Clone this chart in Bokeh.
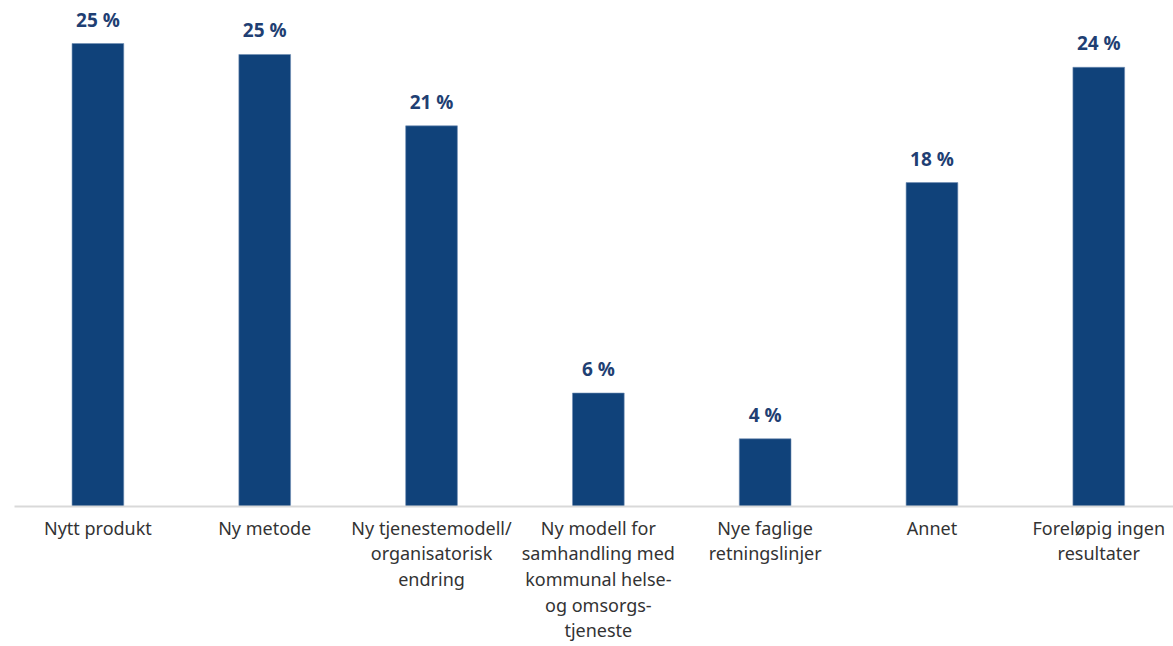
from bokeh.plotting import figure
from bokeh.models import ColumnDataSource, FixedTicker, Range1d
from bokeh.core.properties import value
from bokeh.embed import file_html
from bokeh.resources import INLINE

categories = ["Nytt produkt", "Ny metode", "Ny tjenestemodell/\norganisatorisk\nendring",
              "Ny modell for\nsamhandling med\nkommunal helse-\nog omsorgs-\ntjeneste",
              "Nye faglige\nretningslinjer", "Annet", "Foreløpig ingen\nresultater"]
values = [25.3, 24.7, 20.8, 6.2, 3.7, 17.7, 24.0]
labels = ["25 %", "25 %", "21 %", "6 %", "4 %", "18 %", "24 %"]

xs = list(range(len(categories)))
src = ColumnDataSource(dict(x=xs, top=values, lab=labels))

p = figure(width=1173, height=646, output_backend="svg", toolbar_location=None,
           x_range=Range1d(-0.5, 6.448), y_range=Range1d(0, 27.65),
           min_border_left=14, min_border_right=0, min_border_top=0, min_border_bottom=140)
p.outline_line_color = None
p.grid.visible = False
p.yaxis.visible = False

p.vbar(x="x", top="top", width=0.31, bottom=0, source=src,
       fill_color="#10427A", line_color="#6E8DB3", line_width=0.6)
p.text(x="x", y="top", text="lab", source=src, text_align="center", text_baseline="bottom",
       y_offset=-11, text_font=value("Open Sans"), text_font_style="bold",
       text_font_size="19px", text_color="#1F3F73")

ax = p.xaxis[0]
ax.ticker = FixedTicker(ticks=xs)
ax.major_label_overrides = {i: c for i, c in enumerate(categories)}
ax.axis_line_color = "#D9D9D9"
ax.axis_line_width = 2
ax.major_tick_line_color = None
ax.minor_tick_line_color = None
ax.major_label_text_font = "Noto Sans"
ax.major_label_text_font_size = "18px"
ax.major_label_text_color = "#333333"
ax.major_label_text_line_height = 1.07
ax.major_label_standoff = 3

open("out.html", "w").write(file_html(p, INLINE))
